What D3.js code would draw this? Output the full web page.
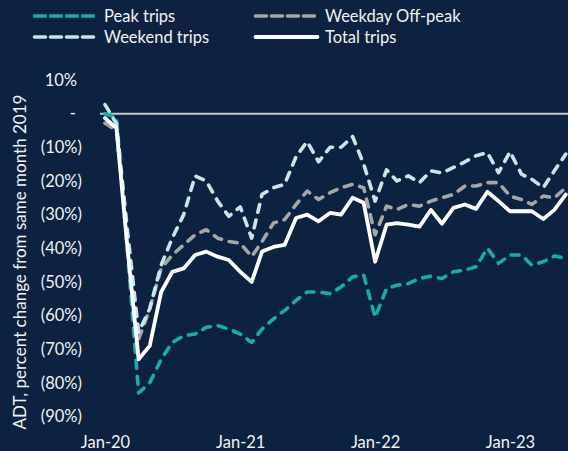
<!DOCTYPE html>
<html>
<head>
<meta charset="utf-8">
<script src="https://cdn.jsdelivr.net/npm/d3@7"></script>
<style>
  html, body { margin: 0; padding: 0; background: #0c2240; }
  svg { display: block; }
  text { font-family: Lato, "Open Sans", sans-serif; fill: #f2f2f2; }
</style>
</head>
<body>
<svg id="chart" width="568" height="451"></svg>
<script>
// ---- data ----
const months = [
  "2020-01","2020-02","2020-03","2020-04","2020-05","2020-06","2020-07","2020-08","2020-09","2020-10","2020-11","2020-12",
  "2021-01","2021-02","2021-03","2021-04","2021-05","2021-06","2021-07","2021-08","2021-09","2021-10","2021-11","2021-12",
  "2022-01","2022-02","2022-03","2022-04","2022-05","2022-06","2022-07","2022-08","2022-09","2022-10","2022-11","2022-12",
  "2023-01","2023-02","2023-03","2023-04","2023-05","2023-06"
];
const peakTrips = [0, -1, -40, -83, -80, -73, -68, -66, -65.5, -63.5, -63, -64,
  -65.5, -68, -64, -61, -58.5, -55.5, -53, -53, -53.5, -51.5, -48.5, -48,
  -60.5, -52, -51, -50.5, -49, -48.3, -49, -47, -46.5, -45.5, -40, -44.5,
  -42, -42, -45, -44, -42.3, -43];
const weekdayOffPeak = [-2.8, -5, -36, -67, -58, -46, -42, -39, -36, -34.5, -37, -38,
  -38.5, -42.5, -38, -32.5, -31.5, -27, -23, -25.5, -23.5, -22, -21, -22,
  -36, -27.5, -28.5, -27, -27.5, -26, -25, -24, -21.5, -21.5, -20.5, -20.5,
  -24.5, -25.5, -27, -24.5, -25, -22];
const weekendTrips = [2.7, -3, -34, -65, -58, -45, -37, -30, -18.5, -20, -26, -30.5,
  -27.7, -37, -24, -22, -21, -12.8, -8.3, -14.3, -10, -10, -6.8, -15,
  -26, -16.7, -20, -18.5, -20.5, -17, -17.6, -16, -14.3, -12.5, -11.6, -17.5,
  -11.3, -18, -19.5, -22, -17, -12];
const totalTrips = [-1.3, -4.3, -39, -73, -69, -53, -47, -46, -42, -41, -42.5, -43.5,
  -47, -50, -41, -39.6, -39, -31, -30, -32, -29.5, -30, -25, -26.5,
  -44, -33, -32.5, -33, -33.6, -28.6, -32.7, -28, -27, -28.3, -23.2, -26,
  -29, -29, -29, -31.3, -28.6, -24];
const yTicks = [10, 0, -10, -20, -30, -40, -50, -60, -70, -80, -90];
const xTickLabels = ["2020-01", "2021-01", "2022-01", "2023-01"];
const seriesNames = ["Peak trips", "Weekday Off-peak", "Weekend trips", "Total trips"];
const yTitle = "ADT, percent change from same month 2019";

// ---- setup ----
const parse = d3.timeParse("%Y-%m");
const dates = months.map(parse);
const svg = d3.select("#chart");
const FONT = "Lato, 'Open Sans', sans-serif";

const x = d3.scaleTime()
  .domain([parse("2020-01"), parse("2023-01")])
  .range([105, 510]);
const y = d3.scaleLinear().domain([-90, 10]).range([416.5, 80]);

const styles = {
  "Peak trips":       { color: "#19aca6", dash: "8,8", width: 3.6 },
  "Weekday Off-peak": { color: "#a6a6a6", dash: "8,8", width: 3.6 },
  "Weekend trips":    { color: "#c4e8e8", dash: "8,8", width: 3.6 },
  "Total trips":      { color: "#ffffff", dash: null,  width: 3.8 }
};
const seriesData = {
  "Peak trips": peakTrips,
  "Weekday Off-peak": weekdayOffPeak,
  "Weekend trips": weekendTrips,
  "Total trips": totalTrips
};

// zero line
svg.append("line")
  .attr("x1", 100).attr("x2", 568)
  .attr("y1", y(0)).attr("y2", y(0))
  .attr("stroke", "#c8c8c8").attr("stroke-width", 2);

// y axis
const fmt = v => v > 0 ? v + "%" : v === 0 ? "-" : "(" + Math.abs(v) + "%)";
const yAxis = svg.append("g")
  .attr("transform", "translate(82,0)")
  .call(d3.axisLeft(y).tickValues(yTicks).tickSize(0).tickPadding(0).tickFormat(fmt));
yAxis.select(".domain").remove();
yAxis.selectAll("text")
  .attr("fill", "#f2f2f2")
  .style("font-family", FONT)
  .style("font-size", "16.5px")
  .attr("dx", d => d > 0 ? -5 : d === 0 ? -6 : 0);

// x axis
const xAxis = svg.append("g")
  .attr("transform", "translate(0,430)")
  .call(d3.axisBottom(x).tickValues(xTickLabels.map(parse)).tickSize(0).tickPadding(0)
    .tickFormat(d3.timeFormat("%b-%y")));
xAxis.select(".domain").remove();
xAxis.selectAll("text")
  .attr("fill", "#f2f2f2")
  .attr("y", 0).attr("dy", "17.5")
  .style("font-family", FONT)
  .style("font-size", "16.5px");

// y title
svg.append("text")
  .attr("transform", "translate(26,262) rotate(-90)")
  .attr("text-anchor", "middle")
  .style("font-size", "17px")
  .text(yTitle);

// series
const line = d3.line().x((d, i) => x(dates[i])).y(d => y(d));
seriesNames.forEach(name => {
  const s = styles[name];
  svg.append("path")
    .datum(seriesData[name])
    .attr("d", line)
    .attr("fill", "none")
    .attr("stroke", s.color)
    .attr("stroke-width", s.width)
    .attr("stroke-linejoin", "round")
    .attr("stroke-linecap", "round")
    .attr("stroke-dasharray", s.dash);
});

// legend
const legendPos = {
  "Peak trips":       [33, 16],
  "Weekday Off-peak": [254, 16],
  "Weekend trips":    [33, 37],
  "Total trips":      [254, 37]
};
seriesNames.forEach(name => {
  const s = styles[name];
  const [lx, ly] = legendPos[name];
  const g = svg.append("g").attr("transform", `translate(${lx},${ly})`);
  g.append("line")
    .attr("x1", 1.5).attr("x2", 63.5)
    .attr("stroke", s.color)
    .attr("stroke-width", s.width)
    .attr("stroke-linecap", "round")
    .attr("stroke-dasharray", s.dash ? "11,5" : null);
  g.append("text")
    .attr("x", 71).attr("dy", "0.36em")
    .style("font-size", "16.5px")
    .text(name);
});
</script>
</body>
</html>
